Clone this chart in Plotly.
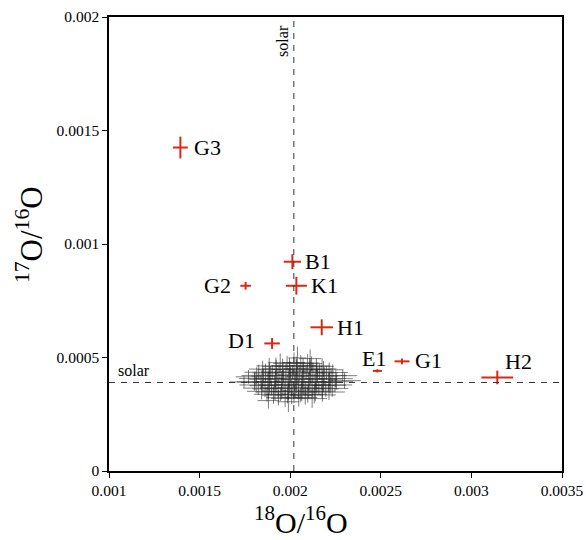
import plotly.graph_objects as go

# ---------------- data ----------------
# Axis ticks
x_tickvals = [0.001, 0.0015, 0.002, 0.0025, 0.003, 0.0035]
x_ticktext = ["0.001", "0.0015", "0.002", "0.0025", "0.003", "0.0035"]
y_tickvals = [0, 0.0005, 0.001, 0.0015, 0.002]
y_ticktext = ["0", "0.0005", "0.001", "0.0015", "0.002"]

# Solar reference values
solar_18 = 0.00202
solar_17 = 0.00039

# Labelled grains (values in units of 1e-3)
grain_names = ["G3", "B1", "K1", "G2", "H1", "D1", "E1", "G1", "H2"]
grain_x = [1.394, 2.012, 2.034, 1.754, 2.174, 1.900, 2.481, 2.617, 3.143]
grain_y = [1.425, 0.922, 0.816, 0.816, 0.633, 0.562, 0.441, 0.483, 0.412]
grain_ex = [0.041, 0.048, 0.058, 0.029, 0.062, 0.043, 0.025, 0.041, 0.088]
grain_ey = [0.048, 0.033, 0.039, 0.017, 0.035, 0.024, 0.007, 0.013, 0.030]

# Cloud of reference measurements (units of 1e-3)
cloud_x = [
    1.935, 1.972, 2.008, 2.047, 2.083, 2.121,
    1.872, 1.908, 1.947, 1.985, 2.021, 2.058, 2.097, 2.133, 2.178,
    1.842, 1.879, 1.916, 1.953, 1.991, 2.027, 2.064, 2.102, 2.139, 2.176, 2.214,
    1.824, 1.861, 1.897, 1.934, 1.972, 2.009, 2.046, 2.083, 2.121, 2.158, 2.196, 2.232,
    1.812, 1.849, 1.886, 1.922, 1.960, 1.997, 2.034, 2.071, 2.109, 2.146, 2.184, 2.221, 2.248,
    1.803, 1.839, 1.877, 1.914, 1.951, 1.988, 2.025, 2.063, 2.100, 2.137, 2.175, 2.212, 2.255,
    1.806, 1.845, 1.882, 1.919, 1.956, 1.993, 2.031, 2.068, 2.105, 2.142, 2.180, 2.217, 2.252,
    1.815, 1.853, 1.890, 1.927, 1.964, 2.002, 2.039, 2.076, 2.114, 2.151, 2.188, 2.226,
    1.826, 1.864, 1.901, 1.938, 1.976, 2.013, 2.050, 2.088, 2.125, 2.162, 2.200, 2.235,
    1.848, 1.885, 1.923, 1.960, 1.998, 2.035, 2.072, 2.110, 2.147, 2.184, 2.215,
    1.884, 1.921, 1.958, 1.996, 2.033, 2.071, 2.108, 2.145, 2.176,
    1.945, 1.983, 2.021, 2.058, 2.096, 2.118,
    1.745, 2.300, 2.040, 1.990, 2.110, 1.770, 2.290, 1.880,
]
cloud_y = [
    0.323, 0.320, 0.325, 0.321, 0.324, 0.319,
    0.338, 0.334, 0.337, 0.335, 0.339, 0.333, 0.336, 0.338, 0.335,
    0.351, 0.348, 0.352, 0.349, 0.350, 0.353, 0.347, 0.351, 0.349, 0.352, 0.348,
    0.365, 0.362, 0.366, 0.363, 0.364, 0.367, 0.361, 0.365, 0.363, 0.366, 0.362, 0.364,
    0.379, 0.376, 0.380, 0.377, 0.378, 0.381, 0.375, 0.379, 0.377, 0.380, 0.376, 0.378, 0.379,
    0.393, 0.390, 0.394, 0.391, 0.392, 0.395, 0.389, 0.393, 0.391, 0.394, 0.390, 0.392, 0.393,
    0.407, 0.404, 0.408, 0.405, 0.406, 0.409, 0.403, 0.407, 0.405, 0.408, 0.404, 0.406, 0.407,
    0.421, 0.418, 0.422, 0.419, 0.420, 0.423, 0.417, 0.421, 0.419, 0.422, 0.418, 0.420,
    0.435, 0.432, 0.436, 0.433, 0.434, 0.437, 0.431, 0.435, 0.433, 0.436, 0.432, 0.434,
    0.449, 0.446, 0.450, 0.447, 0.448, 0.451, 0.445, 0.449, 0.447, 0.450, 0.446,
    0.463, 0.460, 0.464, 0.461, 0.462, 0.465, 0.459, 0.463, 0.461,
    0.477, 0.474, 0.478, 0.475, 0.476, 0.473,
    0.392, 0.398, 0.498, 0.305, 0.495, 0.415, 0.420, 0.310,
]
cloud_ex = [
    0.068, 0.078, 0.062, 0.075, 0.066, 0.082,
    0.072, 0.064, 0.081, 0.067, 0.076, 0.061, 0.084, 0.070, 0.074,
    0.080, 0.066, 0.073, 0.062, 0.083, 0.068, 0.076, 0.064, 0.079, 0.071, 0.087,
    0.084, 0.070, 0.063, 0.077, 0.067, 0.081, 0.061, 0.075, 0.066, 0.080, 0.072, 0.089,
    0.092, 0.073, 0.066, 0.080, 0.062, 0.076, 0.070, 0.084, 0.064, 0.079, 0.068, 0.087, 0.094,
    0.097, 0.076, 0.068, 0.083, 0.064, 0.079, 0.072, 0.061, 0.081, 0.067, 0.085, 0.075, 0.092,
    0.089, 0.071, 0.080, 0.063, 0.075, 0.068, 0.084, 0.066, 0.077, 0.062, 0.081, 0.072, 0.093,
    0.083, 0.067, 0.076, 0.061, 0.079, 0.070, 0.064, 0.081, 0.073, 0.066, 0.077, 0.088,
    0.079, 0.072, 0.063, 0.081, 0.067, 0.075, 0.061, 0.077, 0.070, 0.080, 0.064, 0.084,
    0.076, 0.066, 0.080, 0.062, 0.073, 0.068, 0.083, 0.063, 0.075, 0.071, 0.079,
    0.071, 0.077, 0.062, 0.080, 0.066, 0.074, 0.068, 0.076, 0.064,
    0.068, 0.076, 0.061, 0.072, 0.066, 0.058,
    0.080, 0.090, 0.050, 0.060, 0.060, 0.070, 0.080, 0.060,
]
cloud_ey = [
    0.034, 0.039, 0.030, 0.037, 0.032, 0.041,
    0.032, 0.038, 0.029, 0.036, 0.041, 0.031, 0.035, 0.040, 0.030,
    0.036, 0.030, 0.040, 0.033, 0.037, 0.029, 0.039, 0.032, 0.041, 0.031, 0.035,
    0.031, 0.037, 0.033, 0.041, 0.030, 0.036, 0.040, 0.032, 0.039, 0.029, 0.035, 0.037,
    0.035, 0.030, 0.039, 0.032, 0.041, 0.036, 0.031, 0.040, 0.033, 0.037, 0.029, 0.036, 0.032,
    0.039, 0.032, 0.036, 0.030, 0.040, 0.033, 0.037, 0.031, 0.041, 0.035, 0.030, 0.039, 0.033,
    0.032, 0.040, 0.030, 0.037, 0.033, 0.041, 0.031, 0.036, 0.029, 0.039, 0.035, 0.032, 0.037,
    0.036, 0.031, 0.040, 0.033, 0.029, 0.037, 0.041, 0.032, 0.035, 0.030, 0.039, 0.033,
    0.033, 0.041, 0.031, 0.036, 0.039, 0.030, 0.037, 0.032, 0.040, 0.035, 0.031, 0.036,
    0.037, 0.032, 0.040, 0.030, 0.036, 0.041, 0.033, 0.039, 0.031, 0.035, 0.032,
    0.035, 0.040, 0.031, 0.037, 0.042, 0.032, 0.039, 0.033, 0.036,
    0.040, 0.033, 0.044, 0.036, 0.039, 0.032,
    0.025, 0.035, 0.050, 0.045, 0.040, 0.030, 0.025, 0.035,
]

# label offsets in pixels (style, not data)
label_dx = [27, 26, 28, -28, 29, -31, -3, 26, 21]
label_dy = [0, 0, 0, 0, 0, 3, 12, 1, 16]

SCALE = 1e-3
FONT = "Liberation Serif, Times New Roman, serif"
RED = "#d62a14"
CLOUD = "rgba(40,40,40,0.6)"

fig = go.Figure()

fig.add_trace(go.Scatter(
    x=[v * SCALE for v in cloud_x],
    y=[v * SCALE for v in cloud_y],
    mode="markers",
    marker=dict(size=0.1, color="rgba(0,0,0,0)"),
    error_x=dict(type="data", array=[v * SCALE for v in cloud_ex], color=CLOUD,
                 thickness=1, width=0, visible=True),
    error_y=dict(type="data", array=[v * SCALE for v in cloud_ey], color=CLOUD,
                 thickness=1, width=0, visible=True),
    hoverinfo="skip",
    showlegend=False,
))

fig.add_trace(go.Scatter(
    x=[v * SCALE for v in grain_x],
    y=[v * SCALE for v in grain_y],
    mode="markers",
    marker=dict(size=0.1, color=RED),
    error_x=dict(type="data", array=[v * SCALE for v in grain_ex], color=RED,
                 thickness=2, width=0, visible=True),
    error_y=dict(type="data", array=[v * SCALE for v in grain_ey], color=RED,
                 thickness=2, width=0, visible=True),
    text=grain_names,
    showlegend=False,
))

# solar dashed lines
fig.add_shape(type="line", xref="x", yref="paper", x0=solar_18, x1=solar_18, y0=0, y1=1,
              line=dict(color="#333333", width=1, dash="6px,6px"), layer="above")
fig.add_shape(type="line", xref="paper", yref="y", x0=0, x1=1, y0=solar_17, y1=solar_17,
              line=dict(color="#333333", width=1, dash="6px,6px"), layer="above")

annotations = []
for name, gx, gy, dx, dy in zip(grain_names, grain_x, grain_y, label_dx, label_dy):
    annotations.append(dict(
        x=gx * SCALE, y=gy * SCALE, xref="x", yref="y", text=name, showarrow=False,
        xshift=dx, yshift=dy, font=dict(family=FONT, size=22, color="black"),
        xanchor="center", yanchor="middle",
    ))

# solar labels
annotations.append(dict(x=solar_18, y=0.947, xref="x", yref="paper", text="solar",
                        showarrow=False, textangle=-90, xshift=-12,
                        font=dict(family=FONT, size=16, color="black"),
                        xanchor="center", yanchor="middle"))
annotations.append(dict(x=0.0155, y=solar_17, xref="paper", yref="y", text="solar",
                        showarrow=False, yshift=12,
                        font=dict(family=FONT, size=16, color="black"),
                        xanchor="left", yanchor="middle"))

# axis titles
annotations.append(dict(x=(301 - 109) / 453, y=-0.108, xref="paper", yref="paper",
                        text="<sup>18</sup>O/<sup>16</sup>O", showarrow=False,
                        font=dict(family=FONT, size=30, color="black"),
                        xanchor="center", yanchor="middle"))
annotations.append(dict(x=-0.174, y=0.52, xref="paper", yref="paper",
                        text="<sup>17</sup>O/<sup>16</sup>O", showarrow=False, textangle=-90,
                        font=dict(family=FONT, size=31, color="black"),
                        xanchor="center", yanchor="middle"))

axis_common = dict(showgrid=False, zeroline=False, showline=True, mirror=True,
                   linecolor="black", linewidth=1.5, ticks="outside", ticklen=5,
                   tickwidth=1, tickcolor="black", automargin=False,
                   tickfont=dict(family=FONT, size=15.5, color="black"))

fig.update_layout(
    width=586, height=540, autosize=False,
    margin=dict(l=109, r=24, t=17, b=69),
    paper_bgcolor="white", plot_bgcolor="white",
    xaxis=dict(range=[0.001, 0.0035], tickvals=x_tickvals, ticktext=x_ticktext, **axis_common),
    yaxis=dict(range=[0, 0.002], tickvals=y_tickvals, ticktext=y_ticktext, **axis_common),
    annotations=annotations,
    showlegend=False,
)

fig.write_html(
    "out.html",
    config={"responsive": False, "displayModeBar": False},
    post_script="document.body.style.margin='0px';document.body.style.overflow='hidden';",
)
